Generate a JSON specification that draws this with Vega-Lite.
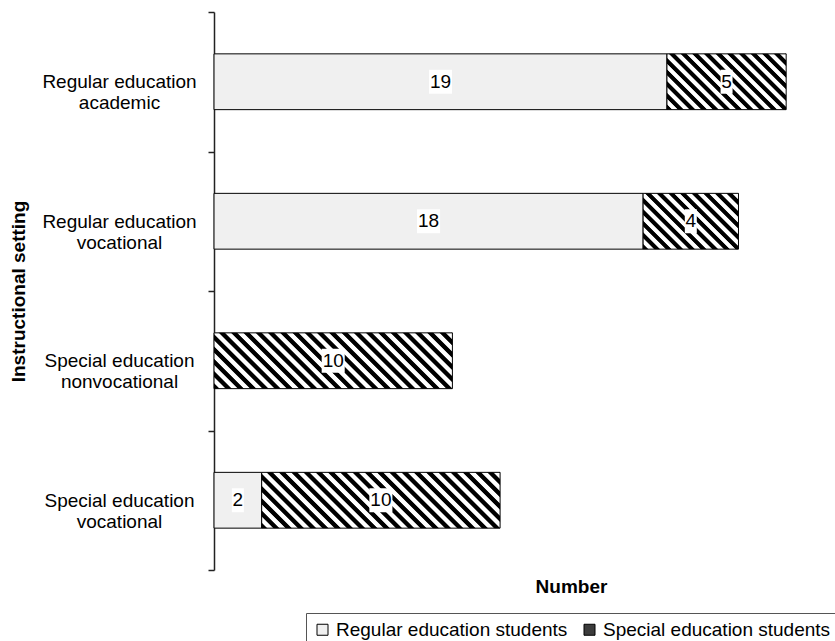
{
  "$schema": "https://vega.github.io/schema/vega-lite/v6.json",
  "autosize": "none",
  "width": 596,
  "height": 558,
  "padding": {"left": 214, "top": 12, "right": 25, "bottom": 71},
  "config": {"view": {"stroke": null}, "font": "Liberation Sans"},
  "data": {
    "values": [
      {"setting": "Regular education academic", "type": "Regular education students", "value": 19},
      {"setting": "Regular education academic", "type": "Special education students", "value": 5},
      {"setting": "Regular education vocational", "type": "Regular education students", "value": 18},
      {"setting": "Regular education vocational", "type": "Special education students", "value": 4},
      {"setting": "Special education nonvocational", "type": "Special education students", "value": 10},
      {"setting": "Special education vocational", "type": "Regular education students", "value": 2},
      {"setting": "Special education vocational", "type": "Special education students", "value": 10}
    ]
  },
  "encoding": {
    "y": {
      "field": "setting",
      "type": "nominal",
      "sort": ["Regular education academic", "Regular education vocational", "Special education nonvocational", "Special education vocational"],
      "scale": {"paddingInner": 0, "paddingOuter": 0},
      "axis": {
        "title": "Instructional setting",
        "titleFontSize": 19,
        "titleFontWeight": "bold",
        "titleColor": "black",
        "titleX": -196,
        "titleY": 279,
        "titleAlign": "center",
        "titleBaseline": "middle",
        "labelExpr": "[slice(datum.label, 0, 17), slice(datum.label, 18)]",
        "labelAlign": "center",
        "labelBaseline": "middle",
        "labelPadding": 89,
        "labelFontSize": 19,
        "labelColor": "black",
        "labelLineHeight": 21,
        "labelLimit": 400,
        "domainColor": "#222222",
        "domainWidth": 1.5,
        "tickColor": "#222222",
        "tickWidth": 1.5,
        "tickSize": 6,
        "tickBand": "extent",
        "grid": false
      }
    }
  },
  "layer": [
    {
      "mark": {"type": "bar", "stroke": "black", "strokeWidth": 1, "opacity": 1, "height": {"band": 0.4}},
      "encoding": {
        "x": {
          "field": "value",
          "type": "quantitative",
          "stack": "zero",
          "scale": {"domain": [0, 25], "nice": false},
          "axis": {"domain": false, "ticks": false, "labels": false, "grid": false, "title": "Number", "titleFontSize": 19, "titleFontWeight": "bold", "titleColor": "black", "titleX": 357, "titleY": 22, "titleBaseline": "alphabetic", "titleAlign": "center"}
        },
        "color": {
          "condition": [
            {
              "test": "datum.type === 'Special education students' && datum.setting === 'Regular education academic'",
              "value": {
                "gradient": "linear", "x1": 0, "y1": 1, "x2": 1.204, "y2": 0.4365,
                "stops": [
                  {"offset": 0, "color": "#000"}, {"offset": 0.0267, "color": "#000"}, {"offset": 0.0333, "color": "#fff"}, {"offset": 0.06, "color": "#fff"},
                  {"offset": 0.0667, "color": "#000"}, {"offset": 0.0933, "color": "#000"}, {"offset": 0.1, "color": "#fff"}, {"offset": 0.1267, "color": "#fff"},
                  {"offset": 0.1333, "color": "#000"}, {"offset": 0.16, "color": "#000"}, {"offset": 0.1667, "color": "#fff"}, {"offset": 0.1933, "color": "#fff"},
                  {"offset": 0.2, "color": "#000"}, {"offset": 0.2267, "color": "#000"}, {"offset": 0.2333, "color": "#fff"}, {"offset": 0.26, "color": "#fff"},
                  {"offset": 0.2667, "color": "#000"}, {"offset": 0.2933, "color": "#000"}, {"offset": 0.3, "color": "#fff"}, {"offset": 0.3267, "color": "#fff"},
                  {"offset": 0.3333, "color": "#000"}, {"offset": 0.36, "color": "#000"}, {"offset": 0.3667, "color": "#fff"}, {"offset": 0.3933, "color": "#fff"},
                  {"offset": 0.4, "color": "#000"}, {"offset": 0.4267, "color": "#000"}, {"offset": 0.4333, "color": "#fff"}, {"offset": 0.46, "color": "#fff"},
                  {"offset": 0.4667, "color": "#000"}, {"offset": 0.4933, "color": "#000"}, {"offset": 0.5, "color": "#fff"}, {"offset": 0.5267, "color": "#fff"},
                  {"offset": 0.5333, "color": "#000"}, {"offset": 0.56, "color": "#000"}, {"offset": 0.5667, "color": "#fff"}, {"offset": 0.5933, "color": "#fff"},
                  {"offset": 0.6, "color": "#000"}, {"offset": 0.6267, "color": "#000"}, {"offset": 0.6333, "color": "#fff"}, {"offset": 0.66, "color": "#fff"},
                  {"offset": 0.6667, "color": "#000"}, {"offset": 0.6933, "color": "#000"}, {"offset": 0.7, "color": "#fff"}, {"offset": 0.7267, "color": "#fff"},
                  {"offset": 0.7333, "color": "#000"}, {"offset": 0.76, "color": "#000"}, {"offset": 0.7667, "color": "#fff"}, {"offset": 0.7933, "color": "#fff"},
                  {"offset": 0.8, "color": "#000"}, {"offset": 0.8267, "color": "#000"}, {"offset": 0.8333, "color": "#fff"}, {"offset": 0.86, "color": "#fff"},
                  {"offset": 0.8667, "color": "#000"}, {"offset": 0.8933, "color": "#000"}, {"offset": 0.9, "color": "#fff"}, {"offset": 0.9267, "color": "#fff"},
                  {"offset": 0.9333, "color": "#000"}, {"offset": 0.96, "color": "#000"}, {"offset": 0.9667, "color": "#fff"}, {"offset": 0.9933, "color": "#fff"},
                  {"offset": 1, "color": "#000"}
                ]
              }
            },
            {
              "test": "datum.type === 'Special education students' && datum.setting === 'Regular education vocational'",
              "value": {
                "gradient": "linear", "x1": 0, "y1": 1, "x2": 1.181, "y2": 0.309,
                "stops": [
                  {"offset": 0, "color": "#000"}, {"offset": 0.0308, "color": "#000"}, {"offset": 0.0385, "color": "#fff"}, {"offset": 0.0692, "color": "#fff"},
                  {"offset": 0.0769, "color": "#000"}, {"offset": 0.1077, "color": "#000"}, {"offset": 0.1154, "color": "#fff"}, {"offset": 0.1462, "color": "#fff"},
                  {"offset": 0.1538, "color": "#000"}, {"offset": 0.1846, "color": "#000"}, {"offset": 0.1923, "color": "#fff"}, {"offset": 0.2231, "color": "#fff"},
                  {"offset": 0.2308, "color": "#000"}, {"offset": 0.2615, "color": "#000"}, {"offset": 0.2692, "color": "#fff"}, {"offset": 0.3, "color": "#fff"},
                  {"offset": 0.3077, "color": "#000"}, {"offset": 0.3385, "color": "#000"}, {"offset": 0.3462, "color": "#fff"}, {"offset": 0.3769, "color": "#fff"},
                  {"offset": 0.3846, "color": "#000"}, {"offset": 0.4154, "color": "#000"}, {"offset": 0.4231, "color": "#fff"}, {"offset": 0.4538, "color": "#fff"},
                  {"offset": 0.4615, "color": "#000"}, {"offset": 0.4923, "color": "#000"}, {"offset": 0.5, "color": "#fff"}, {"offset": 0.5308, "color": "#fff"},
                  {"offset": 0.5385, "color": "#000"}, {"offset": 0.5692, "color": "#000"}, {"offset": 0.5769, "color": "#fff"}, {"offset": 0.6077, "color": "#fff"},
                  {"offset": 0.6154, "color": "#000"}, {"offset": 0.6462, "color": "#000"}, {"offset": 0.6538, "color": "#fff"}, {"offset": 0.6846, "color": "#fff"},
                  {"offset": 0.6923, "color": "#000"}, {"offset": 0.7231, "color": "#000"}, {"offset": 0.7308, "color": "#fff"}, {"offset": 0.7615, "color": "#fff"},
                  {"offset": 0.7692, "color": "#000"}, {"offset": 0.8, "color": "#000"}, {"offset": 0.8077, "color": "#fff"}, {"offset": 0.8385, "color": "#fff"},
                  {"offset": 0.8462, "color": "#000"}, {"offset": 0.8769, "color": "#000"}, {"offset": 0.8846, "color": "#fff"}, {"offset": 0.9154, "color": "#fff"},
                  {"offset": 0.9231, "color": "#000"}, {"offset": 0.9538, "color": "#000"}, {"offset": 0.9615, "color": "#fff"}, {"offset": 0.9923, "color": "#fff"},
                  {"offset": 1, "color": "#000"}
                ]
              }
            },
            {
              "test": "datum.type === 'Special education students'",
              "value": {
                "gradient": "linear", "x1": 0, "y1": 1, "x2": 1.17, "y2": 0.726,
                "stops": [
                  {"offset": 0, "color": "#000"}, {"offset": 0.0167, "color": "#000"}, {"offset": 0.0208, "color": "#fff"}, {"offset": 0.0375, "color": "#fff"},
                  {"offset": 0.0417, "color": "#000"}, {"offset": 0.0583, "color": "#000"}, {"offset": 0.0625, "color": "#fff"}, {"offset": 0.0792, "color": "#fff"},
                  {"offset": 0.0833, "color": "#000"}, {"offset": 0.1, "color": "#000"}, {"offset": 0.1042, "color": "#fff"}, {"offset": 0.1208, "color": "#fff"},
                  {"offset": 0.125, "color": "#000"}, {"offset": 0.1417, "color": "#000"}, {"offset": 0.1458, "color": "#fff"}, {"offset": 0.1625, "color": "#fff"},
                  {"offset": 0.1667, "color": "#000"}, {"offset": 0.1833, "color": "#000"}, {"offset": 0.1875, "color": "#fff"}, {"offset": 0.2042, "color": "#fff"},
                  {"offset": 0.2083, "color": "#000"}, {"offset": 0.225, "color": "#000"}, {"offset": 0.2292, "color": "#fff"}, {"offset": 0.2458, "color": "#fff"},
                  {"offset": 0.25, "color": "#000"}, {"offset": 0.2667, "color": "#000"}, {"offset": 0.2708, "color": "#fff"}, {"offset": 0.2875, "color": "#fff"},
                  {"offset": 0.2917, "color": "#000"}, {"offset": 0.3083, "color": "#000"}, {"offset": 0.3125, "color": "#fff"}, {"offset": 0.3292, "color": "#fff"},
                  {"offset": 0.3333, "color": "#000"}, {"offset": 0.35, "color": "#000"}, {"offset": 0.3542, "color": "#fff"}, {"offset": 0.3708, "color": "#fff"},
                  {"offset": 0.375, "color": "#000"}, {"offset": 0.3917, "color": "#000"}, {"offset": 0.3958, "color": "#fff"}, {"offset": 0.4125, "color": "#fff"},
                  {"offset": 0.4167, "color": "#000"}, {"offset": 0.4333, "color": "#000"}, {"offset": 0.4375, "color": "#fff"}, {"offset": 0.4542, "color": "#fff"},
                  {"offset": 0.4583, "color": "#000"}, {"offset": 0.475, "color": "#000"}, {"offset": 0.4792, "color": "#fff"}, {"offset": 0.4958, "color": "#fff"},
                  {"offset": 0.5, "color": "#000"}, {"offset": 0.5167, "color": "#000"}, {"offset": 0.5208, "color": "#fff"}, {"offset": 0.5375, "color": "#fff"},
                  {"offset": 0.5417, "color": "#000"}, {"offset": 0.5583, "color": "#000"}, {"offset": 0.5625, "color": "#fff"}, {"offset": 0.5792, "color": "#fff"},
                  {"offset": 0.5833, "color": "#000"}, {"offset": 0.6, "color": "#000"}, {"offset": 0.6042, "color": "#fff"}, {"offset": 0.6208, "color": "#fff"},
                  {"offset": 0.625, "color": "#000"}, {"offset": 0.6417, "color": "#000"}, {"offset": 0.6458, "color": "#fff"}, {"offset": 0.6625, "color": "#fff"},
                  {"offset": 0.6667, "color": "#000"}, {"offset": 0.6833, "color": "#000"}, {"offset": 0.6875, "color": "#fff"}, {"offset": 0.7042, "color": "#fff"},
                  {"offset": 0.7083, "color": "#000"}, {"offset": 0.725, "color": "#000"}, {"offset": 0.7292, "color": "#fff"}, {"offset": 0.7458, "color": "#fff"},
                  {"offset": 0.75, "color": "#000"}, {"offset": 0.7667, "color": "#000"}, {"offset": 0.7708, "color": "#fff"}, {"offset": 0.7875, "color": "#fff"},
                  {"offset": 0.7917, "color": "#000"}, {"offset": 0.8083, "color": "#000"}, {"offset": 0.8125, "color": "#fff"}, {"offset": 0.8292, "color": "#fff"},
                  {"offset": 0.8333, "color": "#000"}, {"offset": 0.85, "color": "#000"}, {"offset": 0.8542, "color": "#fff"}, {"offset": 0.8708, "color": "#fff"},
                  {"offset": 0.875, "color": "#000"}, {"offset": 0.8917, "color": "#000"}, {"offset": 0.8958, "color": "#fff"}, {"offset": 0.9125, "color": "#fff"},
                  {"offset": 0.9167, "color": "#000"}, {"offset": 0.9333, "color": "#000"}, {"offset": 0.9375, "color": "#fff"}, {"offset": 0.9542, "color": "#fff"},
                  {"offset": 0.9583, "color": "#000"}, {"offset": 0.975, "color": "#000"}, {"offset": 0.9792, "color": "#fff"}, {"offset": 0.9958, "color": "#fff"},
                  {"offset": 1, "color": "#000"}
                ]
              }
            }
          ],
          "field": "type",
          "type": "nominal",
          "scale": {"domain": ["Regular education students", "Special education students"], "range": ["#f0f0f0", "#3c3c3c"]},
          "legend": {
            "title": null,
            "orient": "none",
            "legendX": 92,
            "legendY": 601,
            "direction": "horizontal",
            "strokeColor": "#555555",
            "fillColor": "white",
            "padding": 7,
            "cornerRadius": 0,
            "symbolType": "square",
            "symbolSize": 121,
            "symbolStrokeColor": "black",
            "symbolStrokeWidth": 1,
            "symbolOpacity": 1,
            "labelFontSize": 19,
            "labelColor": "black",
            "labelOffset": 4,
            "labelLimit": 400,
            "columnPadding": 12
          }
        }
      }
    },
    {
      "mark": {"type": "point", "filled": true, "fill": "white", "opacity": 1, "strokeWidth": 0, "size": 576},
      "encoding": {
        "x": {"field": "value", "type": "quantitative", "stack": "zero", "bandPosition": 0.5},
        "detail": {"field": "type", "type": "nominal"},
        "order": {"field": "type", "type": "nominal", "sort": "ascending"},
        "shape": {"condition": {"test": "datum.value >= 10", "value": "M-0.96,-1H0.96V1H-0.96Z"}, "value": "M-0.5,-1H0.5V1H-0.5Z"}
      }
    },
    {
      "mark": {"type": "text", "fontSize": 19, "color": "black", "baseline": "middle", "align": "center"},
      "encoding": {
        "x": {"field": "value", "type": "quantitative", "stack": "zero", "bandPosition": 0.5},
        "detail": {"field": "type", "type": "nominal"},
        "order": {"field": "type", "type": "nominal", "sort": "ascending"},
        "text": {"field": "value", "type": "quantitative"}
      }
    }
  ]
}
